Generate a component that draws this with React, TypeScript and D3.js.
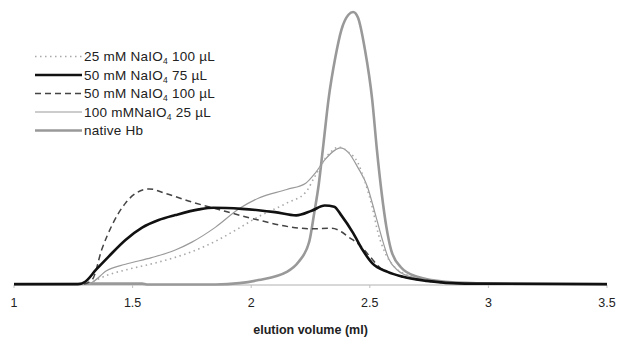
import * as d3 from "d3";

/* ------------------------------------------------------------------ */
/*  Data                                  */
/* ------------------------------------------------------------------ */

type Pt = [number, number];

const nativeHb: Pt[] = [
  [1.0, 0.004], [1.3, 0.005], [1.54, 0.005], [1.56, 0.002], [1.85, 0.002],
  [1.95, 0.007], [2.03, 0.018], [2.15, 0.048], [2.2, 0.085], [2.245, 0.16],
  [2.265, 0.26], [2.285, 0.37], [2.305, 0.52], [2.326, 0.68], [2.355, 0.835],
  [2.38, 0.934], [2.41, 0.99], [2.43, 1.0], [2.45, 0.98], [2.48, 0.86],
  [2.51, 0.68], [2.53, 0.495], [2.55, 0.337], [2.57, 0.212], [2.59, 0.128],
  [2.63, 0.066], [2.7, 0.03], [2.82, 0.012], [3.0, 0.006], [3.5, 0.004],
];

const mM50uL75: Pt[] = [
  [1.0, 0.003], [1.27, 0.003], [1.3, 0.012], [1.345, 0.055], [1.4, 0.105],
  [1.47, 0.165], [1.54, 0.21], [1.61, 0.238], [1.68, 0.256], [1.78, 0.277],
  [1.84, 0.283], [1.96, 0.279], [2.03, 0.274], [2.1, 0.267], [2.19, 0.255],
  [2.255, 0.272], [2.31, 0.291], [2.35, 0.287], [2.38, 0.255], [2.43, 0.19],
  [2.47, 0.128], [2.51, 0.08], [2.575, 0.048], [2.64, 0.03], [2.74, 0.015],
  [2.9, 0.005], [3.5, 0.003],
];

const mM50uL100: Pt[] = [
  [1.0, 0.003], [1.29, 0.003], [1.33, 0.02], [1.37, 0.13], [1.415, 0.222],
  [1.47, 0.3], [1.515, 0.337], [1.57, 0.352], [1.64, 0.335], [1.75, 0.304],
  [1.89, 0.27], [2.03, 0.238], [2.17, 0.212], [2.255, 0.206], [2.34, 0.208],
  [2.38, 0.195], [2.41, 0.176], [2.455, 0.148], [2.5, 0.105], [2.54, 0.066],
  [2.58, 0.046], [2.64, 0.03], [2.74, 0.015], [2.9, 0.005], [3.5, 0.003],
];

const mM100uL25: Pt[] = [
  [1.0, 0.003], [1.31, 0.003], [1.33, 0.01], [1.39, 0.052], [1.47, 0.076],
  [1.58, 0.1], [1.68, 0.128], [1.75, 0.157], [1.85, 0.212], [1.95, 0.28],
  [2.03, 0.318], [2.15, 0.35], [2.23, 0.373], [2.27, 0.41], [2.31, 0.458],
  [2.355, 0.495], [2.375, 0.502], [2.41, 0.485], [2.45, 0.43], [2.49, 0.36],
  [2.52, 0.27], [2.55, 0.175], [2.58, 0.095], [2.62, 0.052], [2.68, 0.028],
  [2.76, 0.012], [2.9, 0.005], [3.5, 0.003],
];

const mM25uL100: Pt[] = [
  [1.0, 0.003], [1.31, 0.003], [1.35, 0.02], [1.4, 0.038], [1.47, 0.055],
  [1.61, 0.084], [1.75, 0.122], [1.86, 0.165], [1.95, 0.209], [2.03, 0.25],
  [2.15, 0.3], [2.23, 0.34], [2.27, 0.4], [2.33, 0.483], [2.37, 0.505],
  [2.41, 0.487], [2.45, 0.447], [2.48, 0.377], [2.51, 0.286], [2.535, 0.19],
  [2.565, 0.117], [2.6, 0.07], [2.66, 0.035], [2.74, 0.014], [2.9, 0.005],
  [3.5, 0.003],
];

const xTicks = [1, 1.5, 2, 2.5, 3, 3.5];

interface Series {
  label: string;
  sub?: string;
  tail?: string;
  data: Pt[];
  stroke: string;
  width: number;
  dash?: string;
}

const series: Series[] = [
  { label: "25 mM NaIO", sub: "4", tail: " 100 µL", data: mM25uL100, stroke: "#a8a8a8", width: 1.6, dash: "1.5 3.5" },
  { label: "50 mM NaIO", sub: "4", tail: " 75 µL", data: mM50uL75, stroke: "#111", width: 2.6 },
  { label: "50 mM NaIO", sub: "4", tail: " 100 µL", data: mM50uL100, stroke: "#444", width: 1.5, dash: "6 4" },
  { label: "100 mMNaIO", sub: "4", tail: " 25 µL", data: mM100uL25, stroke: "#9a9a9a", width: 1.2 },
  { label: "native Hb", data: nativeHb, stroke: "#999", width: 2.6 },
];

// draw order: native first so the others sit over it
const drawOrder = [4, 3, 0, 2, 1];

export default function App() {
  const width = 618;
  const height = 338;

  const x = d3.scaleLinear().domain([1, 3.5]).range([14, 607]);
  const y = d3.scaleLinear().domain([0, 1]).range([285, 12]);

  const line = d3
    .line<Pt>()
    .x((d) => x(d[0]))
    .y((d) => y(d[1]))
    .curve(d3.curveMonotoneX);

  const font = "'Liberation Sans', Arial, sans-serif";

  return (
    <svg
      width={width}
      height={height}
      style={{ position: "absolute", left: 0, top: 0, background: "#fff" }}
      fontFamily={font}
    >
      {/* x axis */}
      <line x1={x(1)} x2={x(3.5)} y1={285} y2={285} stroke="#b0b0b0" strokeWidth={1} />
      {xTicks.map((t) => (
        <g key={t}>
          <line x1={x(t)} x2={x(t)} y1={285} y2={288} stroke="#c0c0c0" strokeWidth={1} />
          <text x={x(t)} y={307} textAnchor="middle" fontSize={12.5} fill="#222">
            {String(t)}
          </text>
        </g>
      ))}
      <text x={(x(1) + x(3.5)) / 2} y={334} textAnchor="middle" fontSize={12.5} fontWeight={700} fill="#222">
        elution volume (ml)
      </text>

      {/* curves */}
      {drawOrder.map((i) => {
        const s = series[i];
        return (
          <path
            key={i}
            d={line(s.data) ?? ""}
            fill="none"
            stroke={s.stroke}
            strokeWidth={s.width}
            strokeDasharray={s.dash}
            strokeLinejoin="round"
          />
        );
      })}

      {/* legend */}
      {series.map((s, i) => {
        const ly = 56.5 + i * 18.5;
        return (
          <g key={i}>
            <line x1={35} x2={82} y1={ly} y2={ly} stroke={s.stroke} strokeWidth={s.width} strokeDasharray={s.dash} />
            <text x={84} y={ly + 4.5} fontSize={13.5} letterSpacing={0.25} fill="#222">
              {s.label}
              {s.sub && (
                <tspan fontSize={8.5} dy={3}>
                  {s.sub}
                </tspan>
              )}
              {s.tail && <tspan dy={s.sub ? -3 : 0}>{s.tail}</tspan>}
            </text>
          </g>
        );
      })}
    </svg>
  );
}
